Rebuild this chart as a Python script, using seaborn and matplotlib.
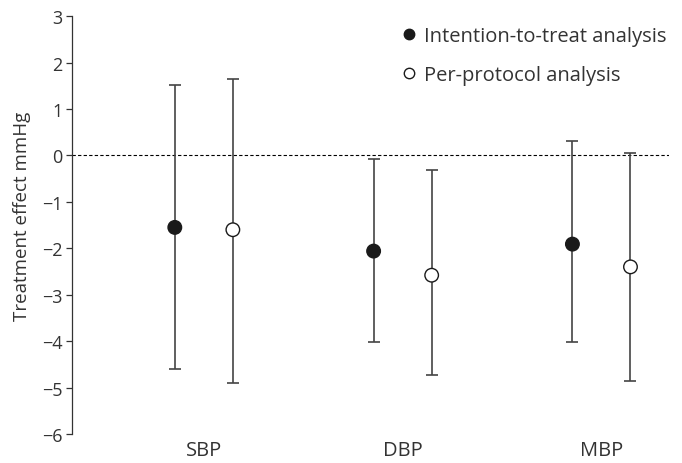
import numpy as np
import pandas as pd
import seaborn as sns
import matplotlib.pyplot as plt
from matplotlib.lines import Line2D

categories = ['SBP', 'DBP', 'MBP']
analyses = ['Intention-to-treat analysis', 'Per-protocol analysis']

itt_est = [-1.55, -2.06, -1.91]
itt_lo = [-4.60, -4.02, -4.02]
itt_hi = [1.52, -0.08, 0.31]

pp_est = [-1.60, -2.58, -2.40]
pp_lo = [-4.90, -4.73, -4.86]
pp_hi = [1.64, -0.31, 0.05]

y_ticks = [3, 2, 1, 0, -1, -2, -3, -4, -5, -6]

sns.set_style('ticks')
plt.rcParams['font.family'] = ['Open Sans', 'DejaVu Sans']

rows = []
for i, cat in enumerate(categories):
    rows.append({'cat': cat, 'analysis': analyses[0], 'est': itt_est[i], 'lo': itt_lo[i], 'hi': itt_hi[i]})
    rows.append({'cat': cat, 'analysis': analyses[1], 'est': pp_est[i], 'lo': pp_lo[i], 'hi': pp_hi[i]})
df = pd.DataFrame(rows)

offset = {analyses[0]: -0.146, analyses[1]: 0.146}
df['xpos'] = df['cat'].map({c: i for i, c in enumerate(categories)}) + df['analysis'].map(offset)

fig = plt.figure(figsize=(6.82, 4.64), dpi=100)
ax = fig.add_axes([0.1056, 0.0625, 0.876, 0.9005])

line_col = '#444444'
text_col = '#333333'
ax.axhline(0, color='black', lw=0.8, ls=(0, (3, 2)), zorder=1)

ax.errorbar(df['xpos'], df['est'],
            yerr=[df['est'] - df['lo'], df['hi'] - df['est']],
            fmt='none', ecolor=line_col, elinewidth=1.2, capsize=4.5, capthick=1.2, zorder=2)

sns.scatterplot(data=df, x='xpos', y='est', hue='analysis',
                palette={analyses[0]: '#1a1a1a', analyses[1]: 'white'},
                s=95, edgecolor='#1a1a1a', linewidth=1.0, legend=False, ax=ax, zorder=3)

ax.set_xlim(-0.663, 2.342)
ax.set_ylim(-6, 3)
ax.set_yticks(y_ticks)
ax.set_xticks(range(len(categories)))
ax.set_xticklabels(categories)
ax.tick_params(axis='x', length=0, pad=4, labelsize=14.5, colors=text_col)
ax.tick_params(axis='y', length=4, width=0.9, labelsize=13, colors=text_col, direction='out', pad=3)
ax.set_xlabel('')
ax.set_ylabel('Treatment effect mmHg', fontsize=13.5, color=text_col)
ax.yaxis.set_label_coords(-0.068, 0.524)

sns.despine(ax=ax, bottom=True)
ax.spines['left'].set_color(text_col)
ax.spines['left'].set_linewidth(0.9)

handles = [
    Line2D([], [], marker='o', ls='none', markersize=7.5, markerfacecolor='#1a1a1a',
           markeredgecolor='#1a1a1a', label=analyses[0]),
    Line2D([], [], marker='o', ls='none', markersize=7.5, markerfacecolor='white',
           markeredgecolor='#1a1a1a', label=analyses[1]),
]
leg = ax.legend(handles=handles, loc='upper right', frameon=False, fontsize=14.5,
                handletextpad=0.35, labelspacing=0.95, borderaxespad=0.1,
                handlelength=0.8, bbox_to_anchor=(1.012, 1.0))
for t in leg.get_texts():
    t.set_color(text_col)

fig.savefig('out.png', dpi=100)
